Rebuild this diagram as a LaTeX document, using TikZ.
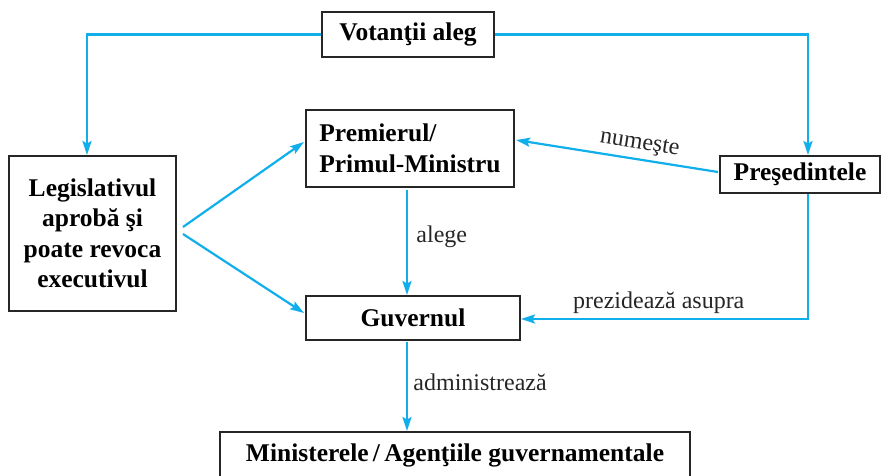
\documentclass[tikz,border=0pt]{standalone}
\usepackage{fontspec}
\setmainfont{Liberation Serif}
\usetikzlibrary{arrows.meta,calc}
\definecolor{arrowblue}{RGB}{16,174,235}
\tikzset{
  box/.style={draw=black!85, line width=2pt, fill=white, inner sep=3pt, font=\bfseries\fontsize{25.5}{30.5}\selectfont},
  link/.style={draw=arrowblue, line width=2.2pt, -{Stealth[length=14pt,width=9pt,inset=2.5pt]}},
  lbl/.style={font=\fontsize{24}{26}\selectfont, text=black!85}
}
\begin{document}
\begin{tikzpicture}[x=1pt,y=-1pt]
\useasboundingbox (0,0) rectangle (883,475);
\node[box, minimum width=172pt, minimum height=45pt] (vot) at (408,34.5) {Votanţii aleg};
\node[box, minimum width=167pt, minimum height=155pt, align=center] (leg) at (92.5,233.5) {Legislativul\\aprobă şi\\poate revoca\\executivul};
\node[box, minimum width=208pt, minimum height=77pt, align=left] (pm) at (410,148.5) {Premierul/\\Primul-Ministru};
\node[box, minimum width=160pt, minimum height=37pt] (pres) at (800,174.5) {Preşedintele};
\node[box, minimum width=214pt, minimum height=44pt] (guv) at (413,318) {Guvernul};
\node[box, minimum width=470pt, minimum height=46pt] (min) at (455,455) {Ministerele\,/\,Agenţiile guvernamentale};

\coordinate (vl) at (87,34.5);
\coordinate (vr) at (808,34.5);
\draw[link] (vot.west) -- (vl) -- (vl |- leg.north);
\draw[link] (vot.east) -- (vr) -- (vr |- pres.north);

\coordinate (la) at (183,227);
\coordinate (lb) at (183,234);
\coordinate (pma) at (304,142);
\coordinate (gva) at (304,313);
\draw[link] (la) -- (pma);
\draw[link] (lb) -- (gva);

\coordinate (pn) at (718,172);
\coordinate (pmr) at (516,140);
\draw[link] (pn) -- (pmr) node[lbl, pos=0.4, above, sloped, yshift=1pt] {numeşte};

\coordinate (pmb) at (407,190);
\draw[link] (pmb) -- (pmb |- guv.north) node[lbl, pos=0.45, right, xshift=5pt] {alege};

\coordinate (pb) at (808,319);
\draw[link] (pres.south -| pb) -- (pb) -- (pb -| guv.east) node[lbl, pos=0.52, above, yshift=1pt] {prezidează asupra};

\coordinate (gb) at (407,342);
\draw[link] (gb) -- (gb |- min.north) node[lbl, pos=0.45, right, xshift=2pt] {administrează};
\end{tikzpicture}
\end{document}
